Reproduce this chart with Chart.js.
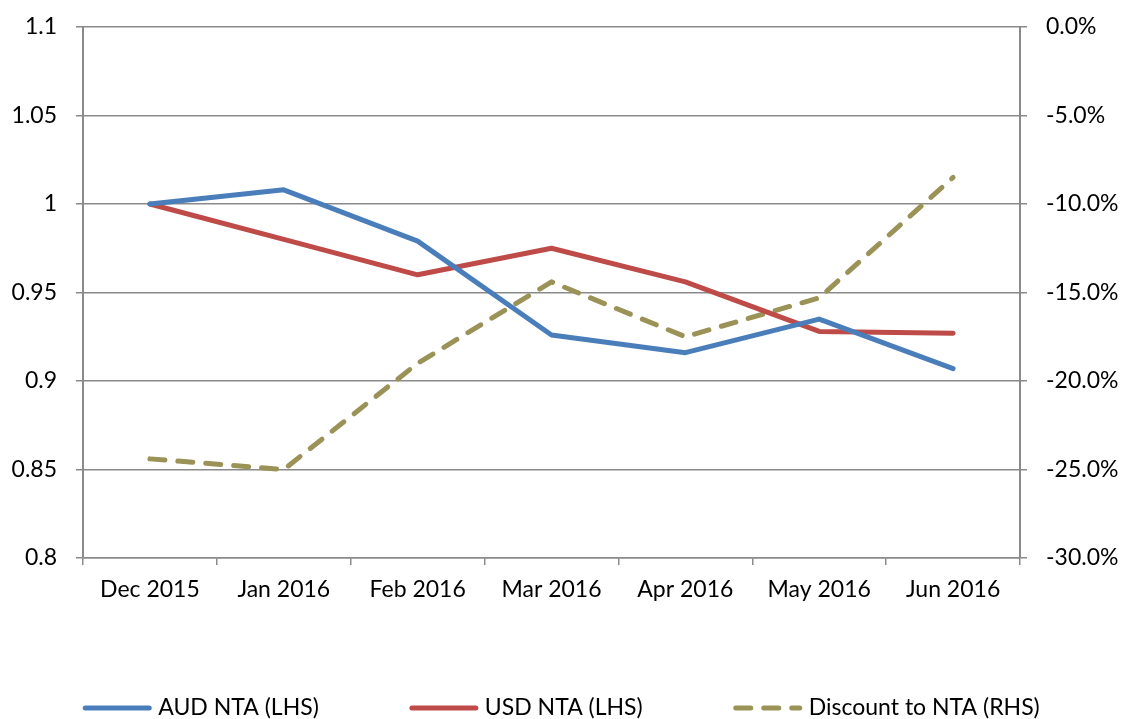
<!DOCTYPE html>
<html>
<head>
<meta charset="utf-8">
<script src="https://cdn.jsdelivr.net/npm/chart.js@4/dist/chart.umd.min.js"></script>
<style>
  html, body { margin: 0; padding: 0; background: #fff; }
  #wrap { width: 1122px; height: 719px; }
</style>
</head>
<body>
<div id="wrap"><canvas id="navChart"></canvas></div>
<script>
'use strict';

var months = ['Dec 2015', 'Jan 2016', 'Feb 2016', 'Mar 2016', 'Apr 2016', 'May 2016', 'Jun 2016'];
var audNta = [1.000, 1.008, 0.979, 0.926, 0.916, 0.935, 0.907];
var usdNta = [1.000, 0.980, 0.960, 0.975, 0.956, 0.928, 0.927];
var discount = [-24.4, -25.0, -19.0, -14.4, -17.5, -15.3, -8.5];

var blue = '#4a7ebb',
    red = '#be4b48',
    olive = '#9a9257',
    gridGrey = '#8a8a8a',
    fontName = 'Lato';

// legend drawn by hand so spacing can follow the original
var bottomLegend = {
    id: 'bottomLegend',
    afterDraw: function (chart) {
        var ctx = chart.ctx;
        var lineLen = 70, textGap = 6, itemGap = 90;
        var y = chart.height - 11;
        ctx.save();
        ctx.font = '23px ' + fontName;
        var items = chart.data.datasets.map(function (ds) {
            return { ds: ds, w: ctx.measureText(ds.label).width };
        });
        var total = 0;
        items.forEach(function (it, i) {
            total += lineLen + textGap + it.w + (i < items.length - 1 ? itemGap : 0);
        });
        var x = (chart.width - total) / 2;
        items.forEach(function (it) {
            ctx.beginPath();
            ctx.lineWidth = it.ds.borderWidth;
            ctx.strokeStyle = it.ds.borderColor;
            ctx.lineCap = 'round';
            ctx.setLineDash(it.ds.borderDash || []);
            ctx.moveTo(x + 3, y);
            ctx.lineTo(x + lineLen - 3, y);
            ctx.stroke();
            ctx.setLineDash([]);
            ctx.fillStyle = '#000';
            ctx.textBaseline = 'middle';
            ctx.textAlign = 'left';
            ctx.fillText(it.ds.label, x + lineLen + textGap, y);
            x += lineLen + textGap + it.w + itemGap;
        });
        ctx.restore();
    }
};

var navChart = new Chart(document.getElementById('navChart'), {
    type: 'line',
    data: {
        labels: months,
        datasets: [
            {
                label: 'AUD NTA (LHS)',
                data: audNta,
                borderColor: blue,
                borderWidth: 5,
                yAxisID: 'y'
            },
            {
                label: 'USD NTA (LHS)',
                data: usdNta,
                borderColor: red,
                borderWidth: 5,
                yAxisID: 'y'
            },
            {
                label: 'Discount to NTA (RHS)',
                data: discount,
                borderColor: olive,
                borderWidth: 5,
                borderDash: [15, 13],
                borderCapStyle: 'round',
                yAxisID: 'y2'
            }
        ]
    },
    options: {
        responsive: true,
        maintainAspectRatio: false,
        animation: false,
        layout: { padding: { top: 27, left: 0, right: 0, bottom: 101 } },
        elements: {
            point: { radius: 0, hoverRadius: 0 },
            line: { tension: 0, borderJoinStyle: 'round', borderCapStyle: 'round' }
        },
        plugins: {
            legend: { display: false },
            tooltip: { enabled: false }
        },
        scales: {
            x: {
                offset: true,
                afterFit: function (scale) { scale.height = 60; },
                grid: {
                    offset: true,
                    drawOnChartArea: false,
                    color: gridGrey,
                    lineWidth: 1.5,
                    tickLength: 7
                },
                border: { color: gridGrey, width: 1.5 },
                ticks: {
                    color: '#000',
                    padding: 11,
                    maxRotation: 0,
                    font: { family: fontName, size: 23 }
                }
            },
            y: {
                position: 'left',
                min: 0.8,
                max: 1.1,
                afterFit: function (scale) { scale.width = 83; },
                grid: {
                    color: gridGrey,
                    lineWidth: 1.5,
                    tickLength: 7
                },
                border: { color: gridGrey, width: 2 },
                ticks: {
                    stepSize: 0.05,
                    color: '#000',
                    padding: 19,
                    font: { family: fontName, size: 23, lineHeight: 0.5 },
                    callback: function (v) { return String(Math.round(v * 100) / 100); }
                }
            },
            y2: {
                position: 'right',
                min: -30,
                max: 0,
                afterFit: function (scale) { scale.width = 102; },
                grid: {
                    drawOnChartArea: false,
                    color: gridGrey,
                    lineWidth: 1.5,
                    tickLength: 7
                },
                border: { color: gridGrey, width: 2 },
                ticks: {
                    stepSize: 5,
                    color: '#000',
                    padding: 19,
                    font: { family: fontName, size: 23, lineHeight: 0.5 },
                    callback: function (v) { return v.toFixed(1) + '%'; }
                }
            }
        }
    },
    plugins: [bottomLegend]
});
</script>
</body>
</html>
